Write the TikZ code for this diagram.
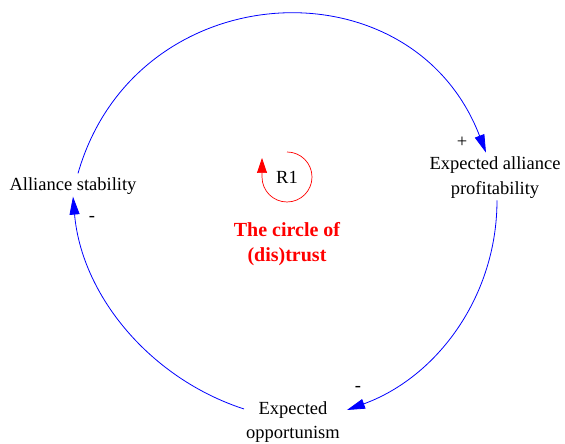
\documentclass[tikz,border=0pt]{standalone}
\usepackage{fontspec}
\setmainfont{Liberation Serif}
\usetikzlibrary{arrows.meta, positioning}
\definecolor{LoopBlue}{RGB}{0,0,255}
\definecolor{LoopRed}{RGB}{255,0,0}
\tikzset{
  var/.style={inner sep=2pt, align=center, font=\fontsize{18.5}{24.5}\selectfont},
  link/.style={draw=LoopBlue, line width=0.8pt, -{Triangle[length=18pt,width=10pt]}},
  sign/.style={inner sep=0pt, font=\fontsize{18.5}{22}\selectfont},
  loopname/.style={text=LoopRed, align=center, font=\fontsize{20}{25}\selectfont\bfseries}
}
\begin{document}
\begin{tikzpicture}[x=1pt, y=1pt]
\path[use as bounding box, fill=white] (0,0) rectangle (565,444);
% Variables
\node[var] (stab) at (73,258) {Alliance stability};
\node[var] (prof) at (495,266.5) {Expected alliance\\profitability};
\node[var] (opp) at (293,22) {Expected\\opportunism};
% Causal links
\draw[link] ([xshift=5pt,yshift=2pt]stab.north) to[out=74, in=111, looseness=1.3] ([xshift=-9pt,yshift=2pt]prof.north);
\draw[link] ([xshift=2pt]prof.south) to[out=-90, in=20, looseness=0.95] ([xshift=5pt,yshift=12pt]opp.east);
\draw[link] ([yshift=13pt]opp.west) to[out=162, in=-85, looseness=0.93] (stab.south);
% Polarities
\node[sign] (s1) at (462,302) {+};
\node[sign] (s2) at (358,55) {-};
\node[sign] (s3) at (92,225) {-};
% Loop marker
\draw[draw=LoopRed, line width=0.7pt, -{Triangle[length=15pt,width=10pt]}] (287,292) arc[start angle=90, end angle=-180, radius=25] -- ++(0,19);
\node[var] (r1) at (287,267) {R1};
\node[loopname] (title) at (287,200) {The circle of\\(dis)trust};
\end{tikzpicture}
\end{document}
